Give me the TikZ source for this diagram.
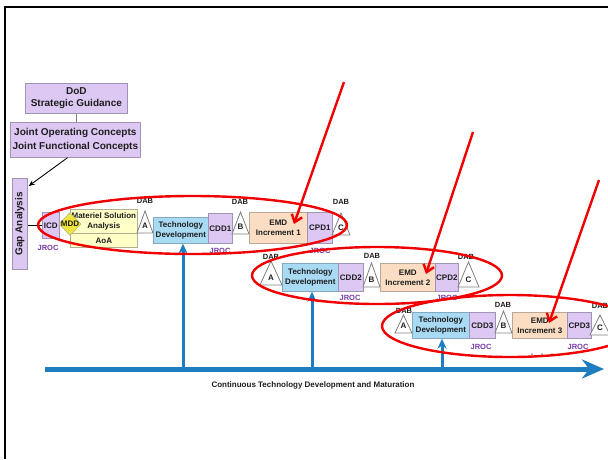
\documentclass[tikz,border=0pt]{standalone}
\usepackage{fontspec}
\usepackage{graphicx}
\setmainfont{Liberation Sans}
\usetikzlibrary{arrows.meta,shapes.geometric,calc}

\definecolor{lav}{HTML}{DCC8F2}
\definecolor{lavline}{HTML}{A094B4}
\definecolor{tdblue}{HTML}{A8DAF4}
\definecolor{tdline}{HTML}{84A8C0}
\definecolor{emdpeach}{HTML}{FADDC2}
\definecolor{emdline}{HTML}{B8A898}
\definecolor{msayellow}{HTML}{FFFFC8}
\definecolor{msaline}{HTML}{B0B090}
\definecolor{mddyellow}{HTML}{EEE43C}
\definecolor{jrocpurple}{HTML}{7A3AA8}
\definecolor{flowblue}{HTML}{1E7DBE}
\definecolor{hlred}{HTML}{F00000}
\definecolor{inkgray}{HTML}{1E1E1E}

\newcommand\boxfont{\fontsize{8}{10}\selectfont\bfseries}
\newcommand\bigfont{\fontsize{10}{12.5}\selectfont\bfseries}
\newcommand\tagfont{\fontsize{7.5}{8}\selectfont\bfseries}

% milestone triangle: name, centre x, apex y, base y, half width, letter
\newcommand\mstone[6]{%
  \draw[tri] (#2-#5,#4) -- (#2,#3) -- (#2+#5,#4) -- cycle;
  \node[trilabel] (#1) at (#2,#4-7) {#6};}

\begin{document}
\begin{tikzpicture}[x=1pt,y=-1pt,
  box/.style={draw=#1, line width=0.7pt, inner sep=0pt, align=center,
    anchor=north west, font=\boxfont, text=inkgray},
  lavbox/.style={box=lavline, fill=lav},
  tdbox/.style={box=tdline, fill=tdblue},
  emdbox/.style={box=emdline, fill=emdpeach},
  msabox/.style={box=msaline, fill=msayellow},
  tri/.style={draw=black!50, fill=white, line width=0.8pt, line join=miter},
  trilabel/.style={font=\boxfont, text=inkgray, inner sep=0pt},
  dab/.style={font=\tagfont, text=inkgray, inner sep=0pt},
  jroc/.style={font=\tagfont, text=jrocpurple, inner sep=0pt},
  flow/.style={draw=flowblue, line width=5pt, -{Stealth[length=22pt,width=19pt]}},
  riser/.style={draw=flowblue, line width=3pt, -{Stealth[length=10pt,width=9pt]}},
  hl/.style={draw=hlred, line width=2.4pt},
  hlarrow/.style={hl, -{Straight Barb[length=7pt,width=11pt]}}
]
\clip (0,0) rectangle (608,459);
\fill[white] (0,0) rectangle (608,459);

% frame
\draw[line width=2.6pt, black] (5,459) -- (5,7) -- (608,7);

% guidance boxes
\node[lavbox, font=\bigfont, minimum width=102pt, minimum height=30pt] (dod) at (25,83) {DoD\\Strategic Guidance};
\node[lavbox, font=\fontsize{10}{13.5}\selectfont\bfseries, minimum width=130pt, minimum height=35pt] (joc) at (10,122) {Joint Operating Concepts\\Joint Functional Concepts};
\draw[black!50, line width=0.8pt] (dod.south) -- (dod.south |- joc.north);

\node[lavbox, minimum width=15pt, minimum height=91pt] (gap) at (12,178) {\rotatebox{90}{\bigfont Gap Analysis}};
\draw[black, line width=0.9pt, -{Stealth[length=6pt,width=5pt]}]
  ($(joc.south west)!0.44!(joc.south east)$) -- ($(gap.north east)+(1,8)$);

% continuous technology development line
\coordinate (flowstart) at (45,369);
\coordinate (flowend) at (604,369);
\draw[flow] (flowstart) -- (flowend);
\node[font=\boxfont, text=inkgray] (ctdm) at (313,385) {Continuous Technology Development and Maturation};

% increment 1
\node[lavbox, minimum width=17pt, minimum height=26pt] (icd) at (42,212) {ICD};
\draw[black, line width=1.6pt] (gap.east |- icd.west) -- (icd.west);
\node[jroc] (jroc0) at (48,248) {JROC};
\node[msabox, minimum width=67pt, minimum height=24pt] (msa) at (70,209) {Materiel Solution\\Analysis};
\node[msabox, minimum width=67pt, minimum height=14pt] (aoa) at (70,233) {AoA};
\node[diamond, aspect=1, fill=mddyellow, draw=msaline, line width=0.5pt, minimum width=22pt, minimum height=23pt, inner sep=0pt,
  label={[font=\boxfont, text=inkgray, inner sep=0pt]center:MDD}] (mdd) at (70,224) {};

\mstone{msA1}{145}{211}{233}{8}{A}
\node[dab] (dabA1) at (145,201) {DAB};
\node[tdbox, minimum width=55pt, minimum height=26pt] (td1) at (153,217) {Technology\\Development};
\node[lavbox, minimum width=24pt, minimum height=30pt] (cdd1) at (208,213) {CDD1};
\node[jroc] (jroc1) at (220,251) {JROC};
\mstone{msB1}{240.5}{212}{234}{8.5}{B}
\node[dab] (dabB1) at (240,202) {DAB};
\node[emdbox, minimum width=58pt, minimum height=31pt] (emd1) at (249,212) {EMD\\Increment 1};
\node[lavbox, minimum width=25pt, minimum height=31pt] (cpd1) at (307,212) {CPD1};
\node[jroc] (jroc2) at (320,251) {JROC};
\mstone{msC1}{341}{213}{235}{9}{C}
\node[dab] (dabC1) at (341,202) {DAB};

% increment 2
\mstone{msA2}{271}{261}{285}{11}{A}
\node[dab] (dabA2) at (271,257) {DAB};
\node[tdbox, minimum width=56pt, minimum height=28pt] (td2) at (282,263) {Technology\\Development};
\node[lavbox, minimum width=25pt, minimum height=28pt] (cdd2) at (338,263) {CDD2};
\node[jroc] (jroc3) at (350,298) {JROC};
\mstone{msB2}{371.5}{263}{287}{8.5}{B}
\node[dab] (dabB2) at (372,256) {DAB};
\node[emdbox, minimum width=55pt, minimum height=28pt] (emd2) at (380,263) {EMD\\Increment 2};
\node[lavbox, minimum width=23pt, minimum height=28pt] (cpd2) at (435,263) {CPD2};
\node[jroc] (jroc4) at (447,298) {JROC};
\mstone{msC2}{468.5}{262}{287}{10.5}{C}
\node[dab] (dabC2) at (466,257) {DAB};

% increment 3
\mstone{msA3}{403.5}{315}{333}{8.5}{A}
\node[dab] (dabA3) at (404,311) {DAB};
\node[tdbox, minimum width=57pt, minimum height=26pt] (td3) at (412,312) {Technology\\Development};
\node[lavbox, minimum width=26pt, minimum height=26pt] (cdd3) at (469,312) {CDD3};
\node[jroc] (jroc5) at (481,347) {JROC};
\mstone{msB3}{503.5}{311}{333}{8.5}{B}
\node[dab] (dabB3) at (503,305) {DAB};
\node[emdbox, minimum width=55pt, minimum height=26pt] (emd3) at (512,312) {EMD\\Increment 3};
\node[lavbox, minimum width=24pt, minimum height=26pt] (cpd3) at (567,312) {CPD3};
\node[jroc] (jroc6) at (578,347) {JROC};
\mstone{msC3}{600}{315}{335}{10}{C}
\node[dab] (dabC3) at (600,306) {DAB};

\foreach \dx in {532,542,552} \fill[black!45] (\dx,354) circle (1pt);

% technology feeding each increment
\coordinate (f1) at (183,369);
\coordinate (f2) at (312,369);
\coordinate (f3) at (442,369);
\draw[riser] (f1) -- (f1 |- td1.south);
\draw[riser] (f2) -- (f2 |- td2.south);
\draw[riser] (f3) -- (f3 |- td3.south);

% highlighted increments
\draw[hl] (192.5,225) ellipse [x radius=154.5, y radius=29];
\draw[hl] (377,275.5) ellipse [x radius=125, y radius=28.5];
\draw[hl] (510,326) ellipse [x radius=128, y radius=31];

\coordinate (r1s) at (344,82);  \coordinate (r1e) at (294,224);
\coordinate (r2s) at (473,132); \coordinate (r2e) at (426,274);
\coordinate (r3s) at (599,180); \coordinate (r3e) at (549,323);
\draw[hlarrow] (r1s) -- (r1e);
\draw[hlarrow] (r2s) -- (r2e);
\draw[hlarrow] (r3s) -- (r3e);
\end{tikzpicture}
\end{document}
